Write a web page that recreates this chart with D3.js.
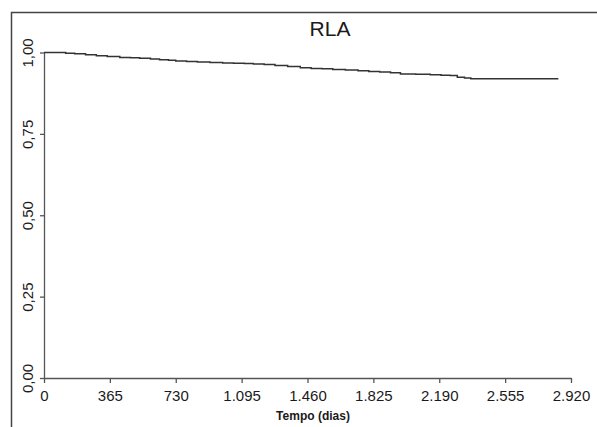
<!DOCTYPE html>
<html>
<head>
<meta charset="utf-8">
<script src="https://cdn.jsdelivr.net/npm/d3@7"></script>
<style>
  body { margin: 0; background: #fff; }
  text { font-family: "Liberation Sans", Arial, sans-serif; fill: #1a1a1a; }
</style>
</head>
<body>
<div id="chart"></div>
<script>
// Kaplan-Meier estimate
const tempo = [0, 120, 170, 230, 290, 350, 420, 480, 530, 590, 640, 690, 730, 790, 850, 920, 990, 1050, 1110, 1160, 1220, 1280, 1350, 1420, 1480, 1540, 1600, 1670, 1740, 1800, 1860, 1920, 1975, 2060, 2140, 2200, 2250, 2290, 2330, 2365, 2850];
const sobrevida = [1.000, 0.998, 0.996, 0.993, 0.990, 0.988, 0.985, 0.984, 0.982, 0.980, 0.978, 0.976, 0.974, 0.972, 0.971, 0.969, 0.968, 0.967, 0.966, 0.965, 0.963, 0.960, 0.957, 0.953, 0.951, 0.950, 0.948, 0.946, 0.944, 0.942, 0.940, 0.938, 0.934, 0.933, 0.932, 0.930, 0.929, 0.924, 0.922, 0.919, 0.919];
const xTicks = [0, 365, 730, 1095, 1460, 1825, 2190, 2555, 2920];
const yTicks = [0, 0.25, 0.5, 0.75, 1];

const W = 597, H = 427;
const svg = d3.select("#chart").append("svg")
    .attr("width", W)
    .attr("height", H);

// outer frame (only left and top visible in the crop)
svg.append("path")
    .attr("d", `M11.5,${H} V12.5 H${W}`)
    .attr("fill", "none")
    .attr("stroke", "#444")
    .attr("stroke-width", 1.5);

const x = d3.scaleLinear().domain([0, 2920]).range([44, 571]);
const y = d3.scaleLinear().domain([0, 1]).range([378, 52.5]);

const fmtX = d => d === 0 ? "0" : d3.format(",")(d).replace(",", ".");
const fmtY = d => d.toFixed(2).replace(".", ",");

// X axis
const xAxis = svg.append("g")
    .attr("transform", `translate(0, ${y(0)})`)
    .call(d3.axisBottom(x).tickValues(xTicks).tickFormat(fmtX).tickSize(5).tickSizeOuter(0).tickPadding(7));
xAxis.select(".domain").attr("stroke", "#555").attr("stroke-width", 1.3);
xAxis.selectAll(".tick line").attr("stroke", "#555").attr("stroke-width", 1.3);
xAxis.selectAll(".tick text").attr("font-size", 15).attr("fill", "#1a1a1a")
    .style("font-family", "'Liberation Sans', Arial, sans-serif");

// Y axis
const yAxis = svg.append("g")
    .attr("transform", `translate(${x(0)}, 0)`)
    .call(d3.axisLeft(y).tickValues(yTicks).tickFormat(fmtY).tickSize(4).tickSizeOuter(0).tickPadding(0));
yAxis.select(".domain").attr("stroke", "#555").attr("stroke-width", 1.3);
yAxis.selectAll(".tick line").attr("stroke", "#555").attr("stroke-width", 1.3);
yAxis.selectAll(".tick text")
    .attr("font-size", 15).attr("fill", "#1a1a1a")
    .style("font-family", "'Liberation Sans', Arial, sans-serif")
    .attr("text-anchor", "middle")
    .attr("dy", null)
    .attr("x", null)
    .attr("transform", "translate(-11, 0) rotate(-90)");

// survival curve
const line = d3.line()
    .x((d, i) => x(tempo[i]))
    .y(d => y(d))
    .curve(d3.curveStepAfter);

svg.append("path")
    .datum(sobrevida)
    .attr("d", line)
    .attr("fill", "none")
    .attr("stroke", "#333")
    .attr("stroke-width", 1.5);

// title
svg.append("text")
    .attr("x", 330)
    .attr("y", 36)
    .attr("text-anchor", "middle")
    .attr("font-size", 21)
    .text("RLA");

// x axis title
svg.append("text")
    .attr("x", 313)
    .attr("y", 420)
    .attr("text-anchor", "middle")
    .attr("font-size", 12)
    .attr("font-weight", "bold")
    .text("Tempo (dias)");
</script>
</body>
</html>
